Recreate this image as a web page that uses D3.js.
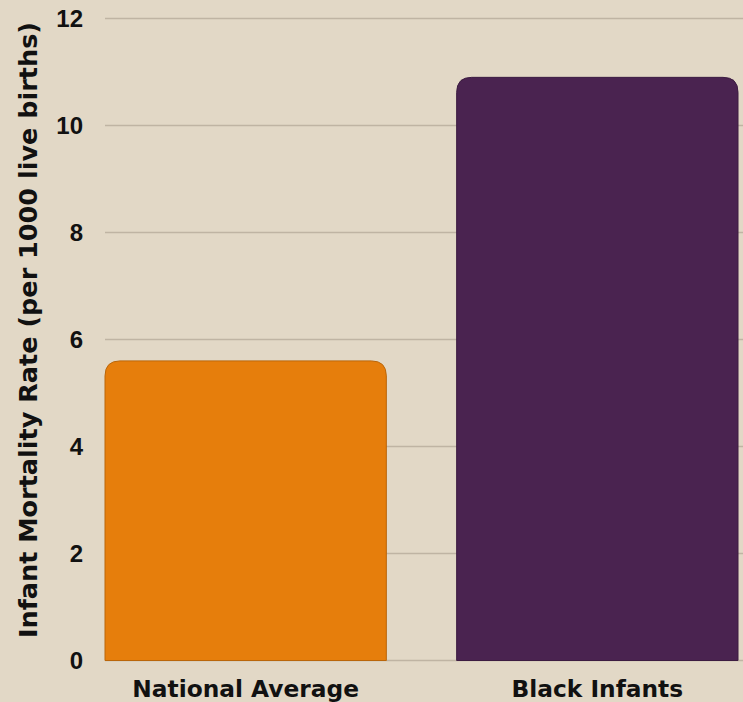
<!DOCTYPE html>
<html>
<head>
<meta charset="utf-8">
<script src="https://cdn.jsdelivr.net/npm/d3@7"></script>
<style>
  body { margin: 0; background: #e2d8c6; }
  svg text { font-family: "DejaVu Sans", sans-serif; font-weight: bold; fill: #111; }
  svg text.tick { font-family: "Liberation Sans", Arial, sans-serif; }
</style>
</head>
<body>
<svg id="chart" width="743" height="702"></svg>
<script>
const categories = ["National Average", "Black Infants"];
const rates = [5.6, 10.9];
const barColors = ["#e67e0c", "#4a2350"];
const yTicks = [0, 2, 4, 6, 8, 10, 12];

const width = 743;
const height = 702;
const plotLeft = 105;
const plotTop = 18.5;
const plotBottom = 660.5;
const radius = 15;

const svg = d3.select('#chart');

svg.append('rect')
   .attr('width', width)
   .attr('height', height)
   .attr('fill', '#e2d8c6');

const x = d3.scaleBand()
            .domain(categories)
            .range([plotLeft, 738])
            .paddingInner(0.2)
            .paddingOuter(0);

const y = d3.scaleLinear()
            .domain([0, 12])
            .range([plotBottom, plotTop]);

// gridlines
svg.selectAll('line.grid')
   .data(yTicks)
   .enter()
   .append('line')
   .classed('grid', true)
   .attr('x1', plotLeft)
   .attr('x2', width)
   .attr('y1', d => y(d))
   .attr('y2', d => y(d))
   .attr('stroke', '#bfb4a3')
   .attr('stroke-width', 1.5);

// tick labels
svg.selectAll('text.tick')
   .data(yTicks)
   .enter()
   .append('text')
   .classed('tick', true)
   .attr('x', 83)
   .attr('y', d => y(d))
   .attr('dy', '0.36em')
   .attr('text-anchor', 'end')
   .style('font-size', '24px')
   .text(d => d);

// bars with rounded tops
function barPath(x0, w, yTop, yBot, r) {
  return `M${x0},${yBot} L${x0},${yTop + r} Q${x0},${yTop} ${x0 + r},${yTop}` +
         ` L${x0 + w - r},${yTop} Q${x0 + w},${yTop} ${x0 + w},${yTop + r}` +
         ` L${x0 + w},${yBot} Z`;
}

const data = categories.map((c, i) => ({ name: c, value: rates[i], color: barColors[i] }));

svg.selectAll('path.bar')
   .data(data)
   .enter()
   .append('path')
   .classed('bar', true)
   .attr('d', d => barPath(x(d.name), x.bandwidth(), y(d.value), y(0), radius))
   .attr('fill', d => d.color)
   .attr('stroke', d => d3.color(d.color).darker(0.6))
   .attr('stroke-width', 1);

// category labels
svg.selectAll('text.cat')
   .data(categories)
   .enter()
   .append('text')
   .classed('cat', true)
   .attr('x', d => x(d) + x.bandwidth() / 2)
   .attr('y', 697)
   .attr('text-anchor', 'middle')
   .style('font-size', '23.3px')
   .text(d => d);

// y axis title
svg.append('text')
   .attr('transform', 'translate(37, 330) rotate(-90)')
   .attr('text-anchor', 'middle')
   .style('font-size', '25.5px')
   .text('Infant Mortality Rate (per 1000 live births)');
</script>
</body>
</html>
